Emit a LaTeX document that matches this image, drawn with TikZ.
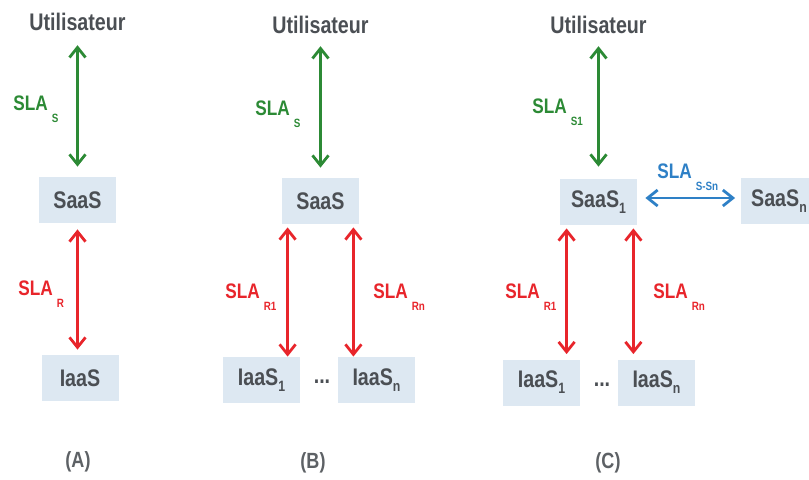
\documentclass[tikz,border=0pt]{standalone}
\usepackage{fontspec}
\setmainfont[FakeStretch=0.82]{Liberation Sans}
\usepackage{xcolor}
\usetikzlibrary{arrows.meta,positioning}

\definecolor{boxfill}{HTML}{DDE8F2}
\definecolor{txtgray}{HTML}{4B4F54}
\definecolor{slagreen}{HTML}{2C8A35}
\definecolor{slared}{HTML}{E8252B}
\definecolor{slablue}{HTML}{2E80C6}

\newcommand{\sla}[1]{SLA\hspace{2pt}\raisebox{-6pt}{\fontsize{6}{7}\selectfont #1}}
\newcommand{\idx}[1]{\raisebox{-3pt}{\fontsize{7.5}{8}\selectfont #1}}

\tikzset{
  actor/.style={font=\bfseries\fontsize{12}{14}\selectfont, text=txtgray, inner sep=0pt},
  service/.style={actor, fill=boxfill, minimum width=38.5pt, minimum height=23pt},
  link/.style={{Straight Barb[length=5pt,width=8pt]}-{Straight Barb[length=5pt,width=8pt]}, line width=1.4pt},
  slalabel/.style={font=\bfseries\fontsize{10.5}{12}\selectfont, anchor=base west, inner sep=0pt},
  caption/.style={font=\bfseries\fontsize{11}{13}\selectfont, text=txtgray!90}
}

\begin{document}
\begin{tikzpicture}[x=0.5pt,y=-0.5pt]
  \path[use as bounding box, clip] (0,0) rectangle (809,479);

  % (A)
  \node[actor] (userA) at (77.5,22) {Utilisateur};
  \node[service] (saasA) at (77.5,200) {SaaS};
  \node[service] (iaasA) at (80,378) {IaaS};
  \node[caption] (capA) at (78,462) {(A)};
  \draw[link, slagreen, shorten <=7pt, shorten >=5pt] (userA.south) -- (saasA.north);
  \draw[link, slared, shorten <=3pt, shorten >=2.5pt] (saasA.south) -- (saasA.south |- iaasA.north);
  \node[slalabel, text=slagreen] (slaSA) at (13,110) {\sla{S}};
  \node[slalabel, text=slared] (slaRA) at (18,295) {\sla{R}};

  % (B)
  \node[actor] (userB) at (320.5,25) {Utilisateur};
  \node[service] (saasB) at (320.5,201) {SaaS};
  \node[service] (iaasB1) at (261.5,380) {IaaS\idx{1}};
  \node[service] (iaasBn) at (376.5,380) {IaaS\idx{n}};
  \node[actor] (dotsB) at (322,382) {...};
  \node[caption] (capB) at (313,463) {(B)};
  \coordinate (b1) at ([xshift=3pt]saasB.south west);
  \coordinate (bn) at ([xshift=-3pt]saasB.south east);
  \draw[link, slagreen, shorten <=6pt, shorten >=5pt] (userB.south) -- (saasB.north);
  \draw[link, slared, shorten <=1.5pt] (b1) -- (b1 |- iaasB1.north);
  \draw[link, slared, shorten <=1.5pt] (bn) -- (bn |- iaasBn.north);
  \node[slalabel, text=slagreen] (slaSB) at (255,115) {\sla{S}};
  \node[slalabel, text=slared] (slaR1B) at (225,298) {\sla{R1}};
  \node[slalabel, text=slared] (slaRnB) at (373,298) {\sla{Rn}};

  % (C)
  \node[actor] (userC) at (598.5,25) {Utilisateur};
  \node[service] (saasC1) at (598.5,202) {SaaS\idx{1}};
  \node[service] (saasCn) at (779,201) {SaaS\idx{n}};
  \node[service] (iaasC1) at (541.5,382.5) {IaaS\idx{1}};
  \node[service] (iaasCn) at (656.5,382.5) {IaaS\idx{n}};
  \node[actor] (dotsC) at (602,385) {...};
  \node[caption] (capC) at (608,463) {(C)};
  \coordinate (c1) at ([xshift=3.5pt]saasC1.south west);
  \coordinate (cn) at ([xshift=-2pt]saasC1.south east);
  \draw[link, slagreen, shorten <=6pt, shorten >=6pt] (userC.south) -- (saasC1.north);
  \draw[link, slablue, shorten <=4pt, shorten >=2.5pt] ([yshift=2pt]saasC1.east) -- ([yshift=2pt]saasC1.east -| saasCn.west);
  \draw[link, slared, shorten <=1.5pt, shorten >=2.5pt] (c1) -- (c1 |- iaasC1.north);
  \draw[link, slared, shorten <=1.5pt, shorten >=2.5pt] (cn) -- (cn |- iaasCn.north);
  \node[slalabel, text=slagreen] (slaSC) at (532,113) {\sla{S1}};
  \node[slalabel, text=slablue] (slaSSn) at (657,178) {\sla{S-Sn}};
  \node[slalabel, text=slared] (slaR1C) at (505,298) {\sla{R1}};
  \node[slalabel, text=slared] (slaRnC) at (653,298) {\sla{Rn}};
\end{tikzpicture}
\end{document}
